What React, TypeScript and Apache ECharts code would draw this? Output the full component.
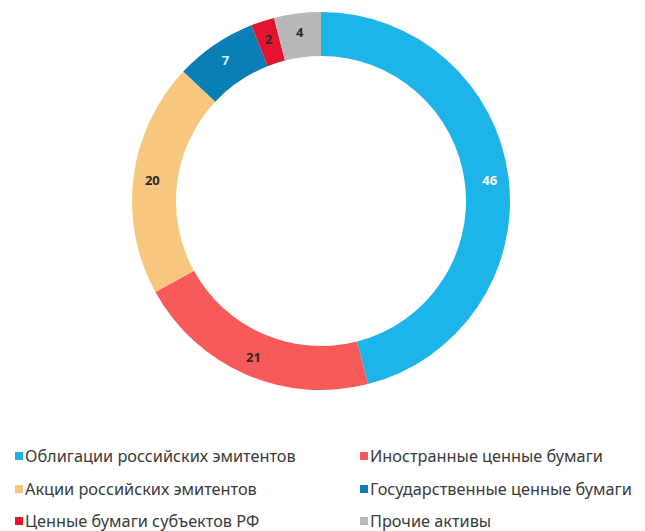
import React, { useEffect, useRef } from "react";
import * as echarts from "echarts";

const categories = [
  "Облигации российских эмитентов",
  "Иностранные ценные бумаги",
  "Акции российских эмитентов",
  "Государственные ценные бумаги",
  "Ценные бумаги субъектов РФ",
  "Прочие активы",
];
const values = [46, 21, 20, 7, 2, 4];
const colors = ["#1db4e9", "#f85a5a", "#f8c77f", "#0a7fb5", "#e5132f", "#b8b8b8"];
const labelColors = ["#ffffff", "#2a2a2a", "#2a2a2a", "#d8eef8", "#2a2a2a", "#2a2a2a"];

const legendPos = [
  { left: 15, top: 448 },
  { left: 360, top: 448 },
  { left: 15, top: 481 },
  { left: 360, top: 481 },
  { left: 15, top: 513 },
  { left: 360, top: 513 },
];

export default function App() {
  const ref = useRef<HTMLDivElement>(null);
  useEffect(() => {
    document.body.style.margin = "0";
    if (!ref.current) return;
    const chart = echarts.init(ref.current, null, { renderer: "svg" });
    const data = categories.map((name, i) => ({
      name,
      value: values[i],
      itemStyle: { color: colors[i] },
      label: { color: labelColors[i] },
    }));
    chart.setOption({
      animation: false,
      legend: categories.map((name, i) => ({
        data: [name],
        left: legendPos[i].left,
        top: legendPos[i].top,
        orient: "horizontal",
        icon: "rect",
        itemWidth: 8,
        itemHeight: 8,
        itemGap: 4,
        padding: 0,
        selectedMode: false,
        textStyle: {
          fontFamily: "Noto Sans",
          fontSize: 16.3,
          color: "#3a3a3a",
          padding: [0, 0, 0, -3],
        },
      })),
      series: [
        {
          type: "pie",
          center: [321, 201],
          radius: [145, 189],
          startAngle: 90,
          clockwise: true,
          avoidLabelOverlap: false,
          label: {
            show: true,
            position: "inside",
            formatter: "{c}",
            fontFamily: "Noto Sans",
            fontSize: 13,
            fontWeight: "bold",
          },
          labelLine: { show: false },
          emphasis: { disabled: true },
          itemStyle: { borderWidth: 0 },
          data,
        },
      ],
    });
    return () => chart.dispose();
  }, []);
  return <div ref={ref} style={{ width: 645, height: 531 }} />;
}
